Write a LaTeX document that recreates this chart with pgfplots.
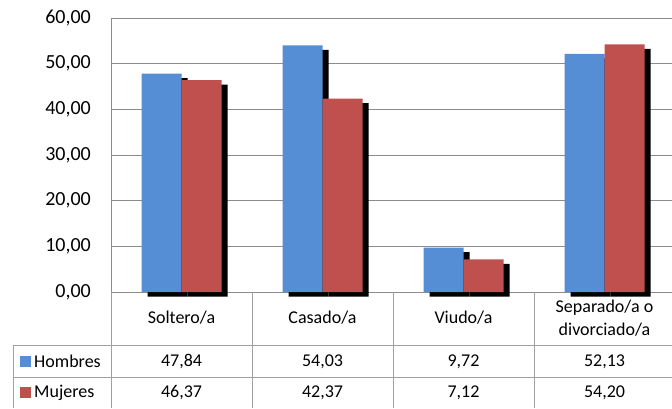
\documentclass[border=0pt]{standalone}
\usepackage{pgfplots}
\pgfplotsset{compat=1.18}
\usepackage{fontspec}
\setmainfont{Carlito}
\usetikzlibrary{shadows}
\definecolor{hblue}{HTML}{558ED5}
\definecolor{mred}{HTML}{C0504D}
\definecolor{gridgray}{HTML}{8C8C8C}
\definecolor{tabgray}{HTML}{A0A0A0}
\pgfplotstableread{
x hombres mujeres
0 47.84 46.37
1 54.03 42.37
2 9.72 7.12
3 52.13 54.20
}\datatab
\begin{document}
\begin{tikzpicture}
\begin{axis}[
  at={(111pt,-292pt)}, anchor=south west,
  scale only axis, width=564pt, height=274pt,
  xmin=-0.5, xmax=3.5, ymin=0, ymax=60,
  ytick={0,10,...,60},
  xtick={0,1,2,3},
  xticklabels={Soltero/a,Casado/a,Viudo/a,{Separado/a o\\divorciado/a}},
  xticklabel style={anchor=center, yshift=-26pt, align=center, font=\fontsize{18}{23}\selectfont},
  ymajorgrids, grid style={draw=gridgray, line width=1pt},
  axis lines=left,
  axis line style={-, draw=gridgray, line width=1pt},
  major tick length=0pt,
  yticklabel style={font=\fontsize{20}{24}\selectfont, inner sep=0pt, xshift=-20pt, anchor=east},
  /pgf/number format/.cd, fixed, fixed zerofill, precision=2, use comma, assume math mode=true,
  /pgfplots/.cd,
  ybar=0pt, bar width=40pt,
  clip=false,
]
\addplot[fill=hblue, draw=none, drop shadow={shadow xshift=6pt, shadow yshift=-4.5pt, fill=black, opacity=1}] table[x=x, y=hombres] {\datatab};
\addplot[fill=mred, draw=none, drop shadow={shadow xshift=6pt, shadow yshift=-4.5pt, fill=black, opacity=1}] table[x=x, y=mujeres] {\datatab};
\end{axis}
% data table
\begin{scope}[draw=tabgray, line width=1pt]
\draw (111pt,-292pt) -- (111pt,-408pt);
\draw (252pt,-292pt) -- (252pt,-408pt);
\draw (393pt,-292pt) -- (393pt,-408pt);
\draw (534pt,-292pt) -- (534pt,-408pt);
\draw (13pt,-345.5pt) -- (680pt,-345.5pt);
\draw (13pt,-377pt) -- (680pt,-377pt);
\draw (13pt,-345.5pt) -- (13pt,-408pt);
\end{scope}
\fill[hblue] (20pt,-356pt) rectangle (30.5pt,-366.5pt);
\fill[mred] (20pt,-387pt) rectangle (30.5pt,-397.5pt);
\begin{scope}[every node/.style={font=\fontsize{18}{23}\selectfont, inner sep=0pt}]
\node[anchor=west] at (34pt,-361.5pt) {Hombres};
\node[anchor=west] at (34pt,-392.5pt) {Mujeres};
\node at (181.5pt,-361.5pt) {47,84};
\node at (322.5pt,-361.5pt) {54,03};
\node at (463.5pt,-361.5pt) {9,72};
\node at (604.5pt,-361.5pt) {52,13};
\node at (181.5pt,-392.5pt) {46,37};
\node at (322.5pt,-392.5pt) {42,37};
\node at (463.5pt,-392.5pt) {7,12};
\node at (604.5pt,-392.5pt) {54,20};
\end{scope}
\pgfresetboundingbox
\path (0pt,0pt) rectangle (672pt,-408pt);
\end{tikzpicture}
\end{document}
